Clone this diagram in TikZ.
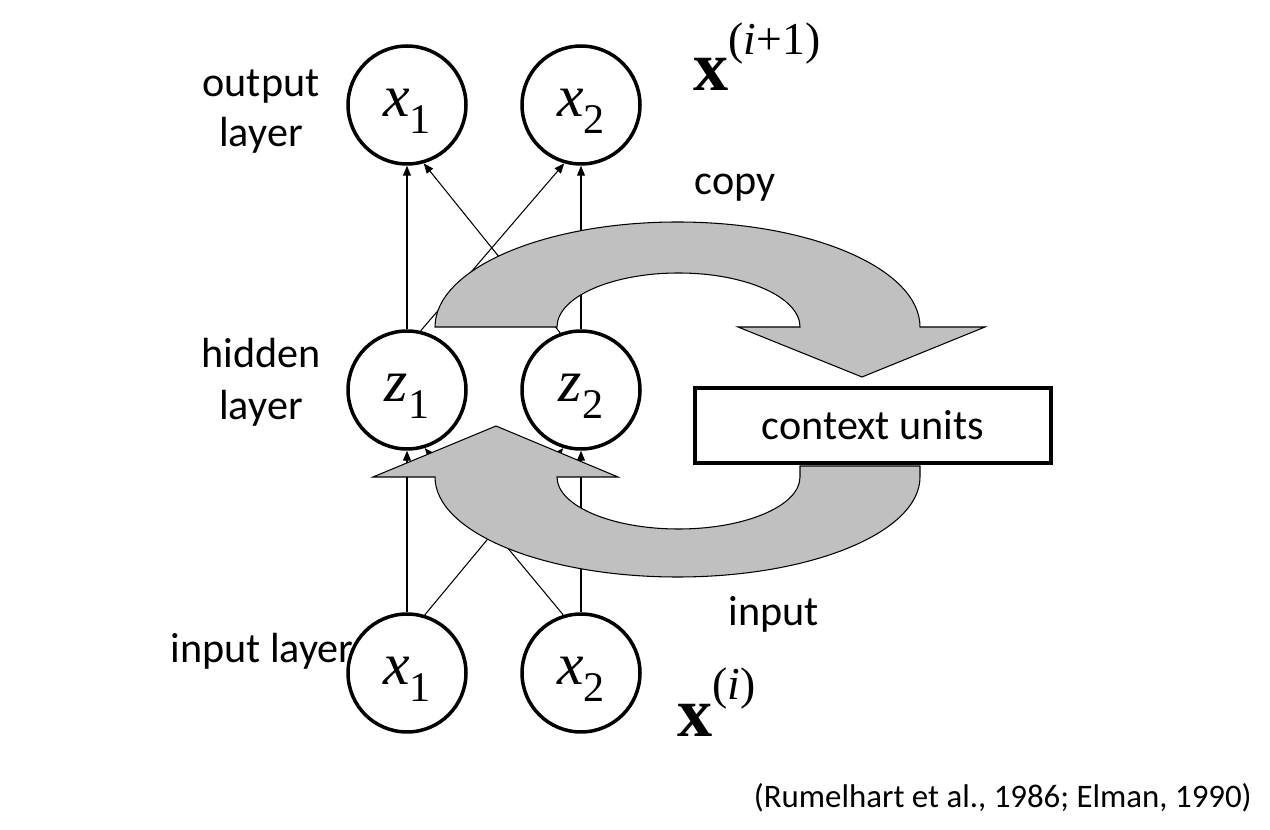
\documentclass[tikz,border=0pt]{standalone}
\usepackage{fontspec}
\setmainfont{Carlito}
\newfontfamily\tms{Liberation Serif}
\usetikzlibrary{arrows.meta}
\definecolor{arrowgray}{RGB}{192,192,192}
\newcommand\myvar[2]{\raisebox{-6.5pt}[0pt][0pt]{{\itshape #1}\raisebox{-9.6pt}{\fontsize{24}{24}\selectfont #2}}}
\newcommand\mybx[1]{{\bfseries x}\raisebox{20.6pt}{\fontsize{26}{26}\selectfont\mdseries(\textit{i}#1)}}
\begin{document}
\begin{tikzpicture}[x=0.02cm,y=-0.02cm,
  unit/.style={circle, draw, line width=2pt, fill=white, minimum size=2.36cm, inner sep=0pt,
               font=\tms\fontsize{34}{34}\selectfont},
  conn/.style={line width=0.6pt, -{Triangle[length=0.2cm,width=0.16cm]}},
  bigarrow/.style={fill=arrowgray, draw=black, line width=0.6pt, line join=miter},
  lab/.style={font=\fontsize{24}{28}\selectfont, anchor=base, inner sep=0pt},
  bigx/.style={font=\tms\fontsize{40}{40}\selectfont, anchor=base west, inner sep=0pt},
  ctxbox/.style={draw, line width=2.3pt, fill=white, minimum width=7.12cm, minimum height=1.5cm,
                 inner sep=0pt, font=\fontsize{24}{28}\selectfont}
]
\useasboundingbox (0,0) rectangle (1270,830);

% labels
\node[lab] (outl1) at (261,97) {output};
\node[lab] (outl2) at (261,147) {layer};
\node[lab] (hidl1) at (261,368) {hidden};
\node[lab] (hidl2) at (261,420) {layer};
\node[lab, anchor=base west] (inl) at (170,662) {input layer};
\node[lab] (copyl) at (735,195) {copy};
\node[lab] (inpl) at (774,625) {input};
\node[font=\fontsize{18.7}{22}\selectfont, anchor=base east, inner sep=0pt] (cite) at (1252,807)
  {(Rumelhart et al., 1986; Elman, 1990)};
\node[bigx] (xtop) at (693,91) {\mybx{+1}};
\node[bigx] (xbot) at (677,736) {\mybx{}};

% units
\node[unit] (x1) at (407,105) {\myvar{x}{1}};
\node[unit] (x2) at (581,105) {\myvar{x}{2}};
\node[unit] (z1) at (407,390) {\myvar{z}{1}};
\node[unit] (z2) at (581,390) {\myvar{z}{2}};
\node[unit] (in1) at (407,673) {\myvar{x}{1}};
\node[unit] (in2) at (581,673) {\myvar{x}{2}};

% connectors
\draw[conn] (z1) -- (x1);
\draw[conn] (z1.77) -- (x2.-106);
\draw[conn] (z2.110) -- (x1.-74);
\draw[conn] (z2) -- (x2);
\draw[conn] (in1) -- (z1);
\draw[conn] (in1.73) -- (z2.-107);
\draw[conn] (in2.107) -- (z1.-73);
\draw[conn] (in2) -- (z2);

% copy arrow
\draw[bigarrow] (435,327)
  .. controls (435,269) and (543.6,222) .. (677.5,222)
  .. controls (811.4,222) and (920,269) .. (920,327)
  -- (985,327) -- (862,377) -- (738,327) -- (800,327)
  .. controls (800,297.2) and (745.6,273) .. (678.5,273)
  .. controls (611.4,273) and (557,297.2) .. (557,327)
  -- cycle;

% input arrow
\draw[bigarrow] (920,466) -- (920,477)
  .. controls (920,532.2) and (811.4,577) .. (677.5,577)
  .. controls (543.6,577) and (435,532.2) .. (435,477)
  -- (373,477) -- (496,426) -- (618,477) -- (557,477)
  .. controls (557,505.7) and (611.4,529) .. (678.5,529)
  .. controls (745.6,529) and (800,505.7) .. (800,477)
  -- (800,466) -- cycle;

% context units
\node[ctxbox] (ctx) at (873,425.5) {context units};
\end{tikzpicture}
\end{document}
